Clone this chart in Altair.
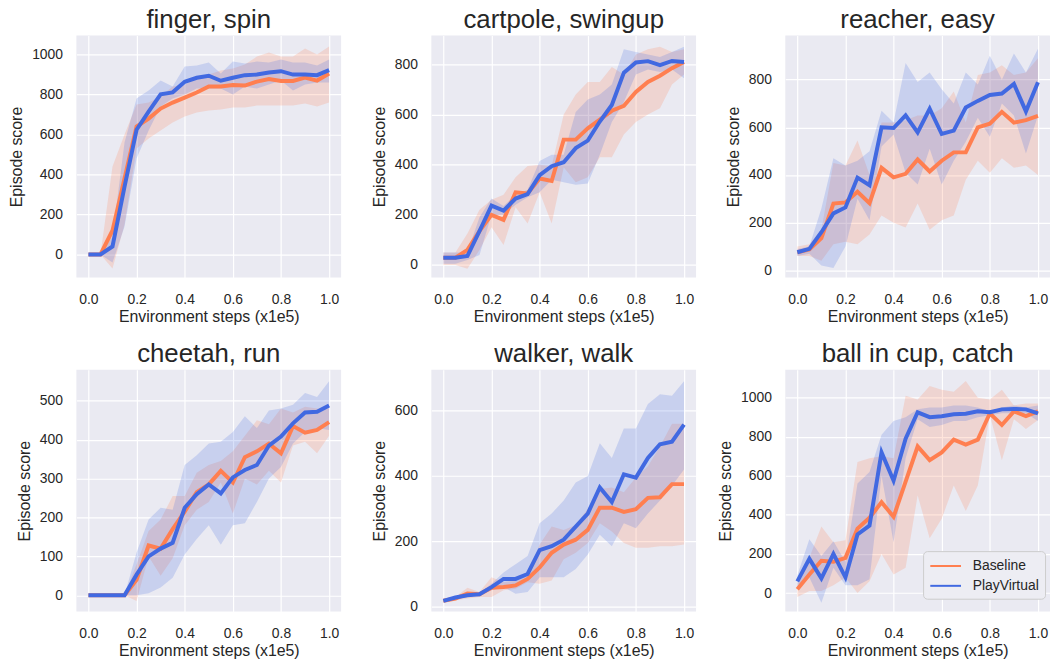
import altair as alt
import pandas as pd

steps = [0.0, 0.05, 0.1, 0.15, 0.2, 0.25, 0.3, 0.35, 0.4, 0.45, 0.5,
         0.55, 0.6, 0.65, 0.7, 0.75, 0.8, 0.85, 0.9, 0.95, 1.0]
methods = ["Baseline", "PlayVirtual"]
colors = ["#FF7F50", "#4169E1"]
x_ticks = [0.0, 0.2, 0.4, 0.6, 0.8, 1.0]

# finger, spin
finger_base = [0, 0, 120, 380, 640, 680, 730, 760, 785, 810, 840, 840, 848, 845, 865, 878, 868, 868, 885, 870, 905]
finger_base_lo = [0, 0, -70, 150, 530, 580, 620, 660, 690, 710, 720, 725, 735, 735, 745, 745, 745, 745, 755, 740, 760]
finger_base_hi = [0, 0, 440, 600, 750, 760, 790, 840, 850, 880, 900, 920, 930, 950, 990, 1010, 990, 990, 1030, 1000, 1040]
finger_pv = [0, 0, 40, 340, 624, 715, 801, 811, 864, 884, 894, 869, 884, 897, 900, 910, 917, 900, 900, 897, 922]
finger_pv_lo = [0, 0, -40, 140, 480, 620, 740, 780, 800, 830, 830, 830, 800, 840, 830, 850, 870, 820, 850, 860, 860]
finger_pv_hi = [0, 0, 90, 560, 780, 820, 870, 840, 940, 945, 960, 905, 965, 955, 965, 960, 975, 960, 960, 945, 975]

# cartpole, swingup
cart_base = [29, 29, 60, 135, 200, 180, 290, 285, 345, 335, 500, 500, 545, 580, 615, 635, 690, 730, 755, 785, 810]
cart_base_lo = [0, 0, -15, 60, 150, 80, 230, 165, 290, 165, 390, 330, 350, 430, 430, 520, 570, 600, 625, 720, 760]
cart_base_hi = [50, 50, 125, 220, 260, 280, 350, 395, 400, 395, 600, 680, 730, 730, 790, 760, 840, 860, 870, 850, 860]
cart_pv = [29, 29, 36, 135, 237, 217, 265, 283, 358, 394, 410, 466, 496, 572, 638, 767, 808, 813, 797, 814, 810]
cart_pv_lo = [5, 5, 20, 40, 200, 200, 240, 270, 290, 340, 330, 320, 325, 440, 570, 650, 760, 780, 770, 780, 745]
cart_pv_hi = [50, 50, 50, 190, 265, 235, 280, 300, 415, 440, 440, 610, 660, 680, 720, 860, 850, 840, 830, 850, 870]

# reacher, easy
reach_base = [76, 88, 135, 280, 285, 330, 282, 430, 390, 405, 465, 415, 460, 495, 495, 600, 615, 665, 620, 630, 648]
reach_base_lo = [60, 60, 40, 110, 120, 110, 150, 230, 200, 180, 280, 170, 210, 230, 380, 460, 410, 470, 430, 440, 400]
reach_base_hi = [100, 110, 170, 450, 440, 545, 400, 620, 620, 630, 650, 650, 680, 750, 620, 820, 830, 860, 820, 830, 890]
reach_pv = [76, 90, 160, 239, 264, 389, 357, 600, 597, 650, 579, 678, 572, 586, 683, 711, 736, 742, 782, 667, 789]
reach_pv_lo = [60, 70, 20, 10, 100, 300, 210, 520, 570, 410, 360, 510, 360, 460, 540, 640, 560, 700, 650, 490, 650]
reach_pv_hi = [90, 100, 260, 470, 440, 460, 500, 670, 620, 870, 790, 830, 760, 700, 830, 780, 900, 800, 910, 830, 930]

# cheetah, run
cheetah_base = [0, 0, 0, 0, 40, 128, 120, 170, 215, 265, 285, 320, 290, 355, 370, 390, 365, 435, 418, 425, 445]
cheetah_base_lo = [0, 0, 0, 0, -15, 100, 50, 95, 180, 220, 240, 290, 210, 300, 285, 320, 290, 385, 395, 365, 410]
cheetah_base_hi = [0, 0, 0, 0, 80, 165, 195, 255, 255, 315, 335, 345, 370, 410, 450, 440, 480, 470, 485, 480, 480]
cheetah_pv = [0, 0, 0, 0, 53, 100, 120, 135, 225, 260, 285, 262, 303, 322, 335, 385, 408, 442, 470, 472, 488]
cheetah_pv_lo = [0, 0, 0, 0, 0, 5, 20, 45, 105, 145, 180, 130, 180, 185, 240, 300, 330, 390, 420, 430, 425]
cheetah_pv_hi = [0, 0, 0, 0, 110, 195, 225, 220, 335, 360, 390, 395, 420, 460, 430, 475, 480, 490, 520, 510, 550]

# walker, walk
walker_base = [18, 25, 40, 38, 58, 60, 65, 85, 120, 165, 190, 205, 235, 303, 303, 290, 298, 333, 335, 375, 375]
walker_base_lo = [14, 20, 25, 30, 30, 50, 55, 75, 70, 80, 145, 165, 195, 255, 230, 195, 180, 180, 185, 185, 190]
walker_base_hi = [22, 30, 58, 45, 90, 75, 80, 95, 190, 245, 235, 250, 300, 360, 365, 350, 395, 430, 490, 560, 560]
walker_pv = [18, 28, 35, 38, 60, 85, 85, 100, 173, 185, 205, 245, 285, 365, 320, 405, 395, 455, 497, 505, 557]
walker_pv_lo = [14, 24, 30, 35, 50, 60, 40, 45, 90, 90, 90, 115, 160, 220, 185, 255, 240, 285, 325, 370, 420]
walker_pv_hi = [22, 32, 40, 42, 70, 105, 130, 155, 255, 285, 325, 380, 400, 500, 455, 545, 545, 620, 650, 645, 690]

# ball in cup, catch
ball_base = [20, 95, 165, 160, 180, 330, 385, 465, 390, 570, 750, 680, 720, 785, 760, 785, 920, 860, 930, 905, 930]
ball_base_lo = [-20, 10, 10, 40, 80, 0, 60, 200, 95, 130, 500, 280, 380, 550, 420, 550, 910, 680, 890, 840, 885]
ball_base_hi = [50, 180, 340, 260, 270, 670, 690, 700, 690, 1010, 990, 1060, 1040, 1030, 1085, 1000, 990, 1040, 960, 970, 970]
ball_pv = [60, 175, 75, 200, 80, 300, 345, 720, 575, 790, 925, 900, 905, 915, 918, 930, 925, 940, 942, 940, 920]
ball_pv_lo = [30, 80, -50, 130, 40, 40, 70, 600, 260, 690, 890, 850, 860, 880, 880, 900, 910, 920, 920, 920, 880]
ball_pv_hi = [90, 275, 190, 265, 160, 560, 620, 810, 880, 900, 940, 950, 950, 960, 960, 950, 930, 950, 960, 950, 960]

FONT = "Liberation Sans"
TXT = "#262626"
W, H = 267, 244

legend = alt.Legend(
    title=None, orient="none", legendX=139, legendY=183,
    symbolType="M-1,0H3", symbolSize=240, symbolStrokeWidth=2,
    labelFontSize=14, labelFont=FONT, labelColor=TXT, labelOffset=26,
    rowPadding=4, padding=6, fillColor="#EDEDF3", strokeColor="#CCCCCC",
    cornerRadius=4,
)


def panel(title, bm, blo, bhi, pm, plo, phi, ydom, yticks, show_legend=False):
    rows = []
    for name, m, lo, hi in [("Baseline", bm, blo, bhi), ("PlayVirtual", pm, plo, phi)]:
        for i, s in enumerate(steps):
            rows.append({"step": s, "method": name, "mean": m[i], "lo": lo[i], "hi": hi[i]})
    df = pd.DataFrame(rows)
    xenc = alt.X("step:Q", scale=alt.Scale(domain=[-0.05, 1.05], nice=False, zero=False),
                 axis=alt.Axis(values=x_ticks, format=".1f", title="Environment steps (x1e5)",
                               labelPadding=15, titlePadding=2))
    yscale = alt.Scale(domain=ydom, nice=False, zero=False)
    cscale = alt.Scale(domain=methods, range=colors)
    band = alt.Chart(df).mark_area(fillOpacity=0.2).encode(
        x=xenc,
        y=alt.Y("lo:Q", scale=yscale, axis=alt.Axis(values=yticks, format="d", title="Episode score",
                                                     labelPadding=14, titlePadding=7)),
        y2="hi:Q",
        fill=alt.Fill("method:N", scale=cscale, legend=None),
        detail="method:N",
    )
    line = alt.Chart(df).mark_line(strokeWidth=4).encode(
        x=xenc,
        y=alt.Y("mean:Q", scale=yscale),
        color=alt.Color("method:N", scale=cscale, legend=legend if show_legend else None),
    )
    return alt.layer(band, line).properties(
        width=W, height=H,
        title=alt.TitleParams(title, fontSize=26, font=FONT, fontWeight="normal",
                              color=TXT, offset=-23, baseline="bottom"),
    )


p1 = panel("finger, spin", finger_base, finger_base_lo, finger_base_hi,
           finger_pv, finger_pv_lo, finger_pv_hi, [-115, 1095], [0, 200, 400, 600, 800, 1000])
p2 = panel("cartpole, swingup", cart_base, cart_base_lo, cart_base_hi,
           cart_pv, cart_pv_lo, cart_pv_hi, [-50, 915], [0, 200, 400, 600, 800])
p3 = panel("reacher, easy", reach_base, reach_base_lo, reach_base_hi,
           reach_pv, reach_pv_lo, reach_pv_hi, [-30, 985], [0, 200, 400, 600, 800])
p4 = panel("cheetah, run", cheetah_base, cheetah_base_lo, cheetah_base_hi,
           cheetah_pv, cheetah_pv_lo, cheetah_pv_hi, [-42, 580], [0, 100, 200, 300, 400, 500])
p5 = panel("walker, walk", walker_base, walker_base_lo, walker_base_hi,
           walker_pv, walker_pv_lo, walker_pv_hi, [-15, 725], [0, 100, 200, 300, 400, 500, 600, 700])
p6 = panel("ball in cup, catch", ball_base, ball_base_lo, ball_base_hi,
           ball_pv, ball_pv_lo, ball_pv_hi, [-95, 1143], [0, 200, 400, 600, 800, 1000],
           show_legend=True)

VS = 17
col1 = alt.vconcat(p1, p4, spacing=VS).resolve_legend(color="independent")
col2 = alt.vconcat(p2, p5, spacing=VS).resolve_legend(color="independent")
col3 = alt.vconcat(p3, p6, spacing=VS).resolve_legend(color="independent")

inner = alt.hconcat(col1, col2, spacing=30).resolve_legend(color="independent")
chart = alt.hconcat(inner, col3, spacing=21).resolve_legend(color="independent").properties(
    padding={"left": 0, "top": -4, "right": 0, "bottom": 0},
    background="white",
).configure_view(
    fill="#EAEAF2", stroke=None
).configure_axis(
    gridColor="white", gridWidth=1.2, domain=False, ticks=False,
    labelFont=FONT, titleFont=FONT, labelFontSize=14, titleFontSize=16,
    titleFontWeight="normal", labelColor=TXT, titleColor=TXT,
)

chart.save("out.html", embed_options={"renderer": "svg", "actions": False})
